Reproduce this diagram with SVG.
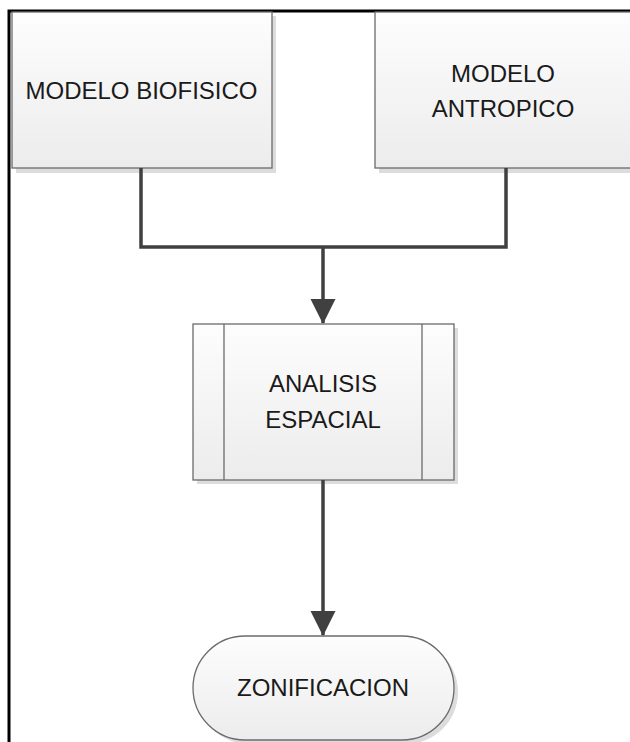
<svg xmlns="http://www.w3.org/2000/svg" width="630" height="742" viewBox="0 0 630 742">
<style>
.box{fill:url(#g);stroke:#6b6b6b;stroke-width:1.3}
.sh{fill:#dcdcdc}
.t{font-family:"Liberation Sans",Arial,sans-serif;font-size:24px;fill:#1a1a1a;text-anchor:middle}
.c{fill:none;stroke:#404040;stroke-width:3.5}
</style>
<defs>
<linearGradient id="g" x1="0" y1="0" x2="0" y2="1">
<stop offset="0" stop-color="#fdfdfd"/>
<stop offset="1" stop-color="#ececec"/>
</linearGradient>
<marker id="ah" markerUnits="userSpaceOnUse" markerWidth="26" markerHeight="26" refX="24" refY="12.5" orient="auto">
<path d="M0,0 L25,12.5 L0,25 Z" fill="#404040"/>
</marker>
</defs>
<rect width="630" height="742" fill="#fff"/>
<path d="M9,742 V11 H630" fill="none" stroke="#000" stroke-width="3"/>
<g id="modelo-biofisico">
<rect class="sh" x="16" y="16" width="260" height="157"/>
<rect class="box" x="12" y="12" width="260" height="156"/>
<text class="t" x="141.5" y="99">MODELO BIOFISICO</text>
</g>
<g id="modelo-antropico">
<rect class="sh" x="379" y="16" width="260" height="157"/>
<rect class="box" x="375" y="12" width="260" height="156"/>
<text class="t" x="503" y="82">MODELO</text>
<text class="t" x="503" y="117">ANTROPICO</text>
</g>
<g id="analisis-espacial">
<rect class="sh" x="197" y="328" width="261" height="156"/>
<rect class="box" x="193" y="324" width="261" height="156"/>
<line x1="224" y1="324" x2="224" y2="480" stroke="#6b6b6b" stroke-width="1.3"/>
<line x1="422" y1="324" x2="422" y2="480" stroke="#6b6b6b" stroke-width="1.3"/>
<text class="t" x="323" y="392">ANALISIS</text>
<text class="t" x="323" y="428">ESPACIAL</text>
</g>
<g id="zonificacion">
<rect class="sh" x="197" y="640" width="261" height="104" rx="52"/>
<rect class="box" x="193" y="636" width="261" height="104" rx="52"/>
<text class="t" x="323" y="696">ZONIFICACION</text>
</g>
<g id="connectors">
<path class="c" d="M141,168 V247 H506 V168"/>
<path class="c" d="M323,247 V323" marker-end="url(#ah)"/>
<path class="c" d="M323,480 V635" marker-end="url(#ah)"/>
</g>
</svg>
